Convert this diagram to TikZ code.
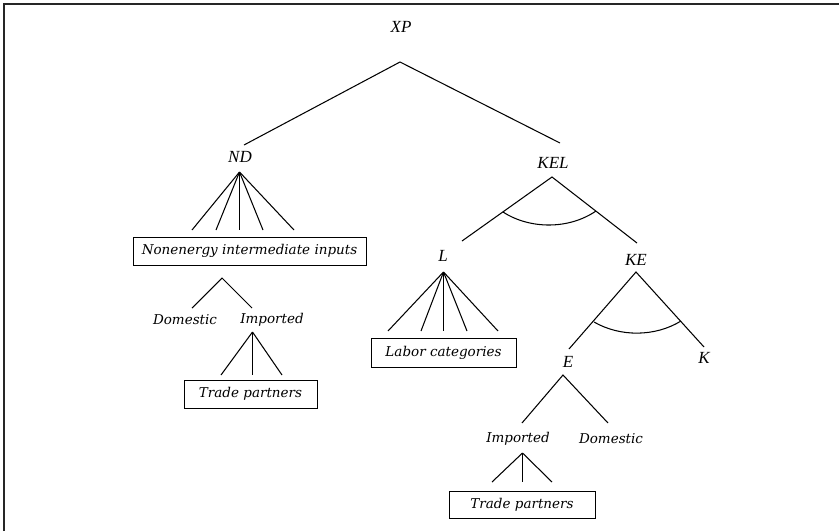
\documentclass[tikz,border=0pt]{standalone}
\usepackage{fontspec}
\setmainfont{DejaVu Serif}
\newfontfamily\capsfont{Liberation Serif}
\begin{document}
\begin{tikzpicture}[x=1pt,y=-1pt,
  lbl/.style={font=\fontsize{13.5}{16}\selectfont\itshape, inner sep=1pt},
  var/.style={font=\capsfont\fontsize{17}{20}\selectfont\itshape, inner sep=1pt},
  boxed/.style={draw, line width=1pt, font=\fontsize{13.5}{16}\selectfont\itshape, inner sep=0pt},
  edge/.style={line width=1.05pt},
  frame/.style={line width=1.6pt, black!85}]
\useasboundingbox (0,0) rectangle (839,531);
\draw[frame] (4,531) -- (4,4) -- (839,4);

% top
\node[var] (XP) at (401,27) {XP};
\coordinate (xpA) at (400,62);
\coordinate (xpL) at (244,145);
\coordinate (xpR) at (560,143);
\draw[edge] (xpL) -- (xpA) -- (xpR);

% ND branch
\node[var] (ND) at (240,157) {ND};
\coordinate (ndA) at (239.5,172);
\foreach \x [count=\i] in {192,216,239.5,263,294} \coordinate (nd\i) at (\x,230);
\foreach \i in {1,...,5} \draw[edge] (ndA) -- (nd\i);
\node[boxed, minimum width=233pt, minimum height=28pt] (nei) at (249.5,251) {Nonenergy intermediate inputs};

\coordinate (dA) at (222,278);
\coordinate (dL) at (192,308);
\coordinate (dR) at (252,308);
\draw[edge] (dL) -- (dA) -- (dR);
\node[lbl] (dom1) at (185,320) {Domestic};
\node[lbl] (imp1) at (272,320) {Imported};
\coordinate (i1A) at (252.5,332);
\foreach \x [count=\i] in {221,252.5,282} \coordinate (i1e\i) at (\x,375);
\foreach \i in {1,2,3} \draw[edge] (i1A) -- (i1e\i);
\node[boxed, minimum width=133pt, minimum height=28pt] (tp1) at (250.5,394) {Trade partners};

% KEL branch
\node[var] (KEL) at (553,163) {KEL};
\coordinate (kelA) at (552,177);
\coordinate (kelL) at (462,241);
\coordinate (kelR) at (637,243);
\draw[edge] (kelL) -- (kelA) -- (kelR);
\draw[edge] (503,212) .. controls (530,229.5) and (569,229.5) .. (596,211);

% L
\node[var] (L) at (443,256) {L};
\coordinate (lA) at (443.5,272);
\foreach \x [count=\i] in {388,421,443.5,467,498} \coordinate (l\i) at (\x,331);
\foreach \i in {1,...,5} \draw[edge] (lA) -- (l\i);
\node[boxed, minimum width=145pt, minimum height=29pt] (lab) at (443.5,352.5) {Labor categories};

% KE
\node[var] (KE) at (636,260) {KE};
\coordinate (keA) at (636,272);
\coordinate (keL) at (569,349);
\coordinate (keR) at (704,347);
\draw[edge] (keL) -- (keA) -- (keR);
\draw[edge] (594,322) .. controls (620,337) and (655,337) .. (681,321);
\node[var] (E) at (568,362) {E};
\node[var] (K) at (704,358) {K};

% E
\coordinate (eA) at (563,375);
\coordinate (eL) at (522,423);
\coordinate (eR) at (608,423);
\draw[edge] (eL) -- (eA) -- (eR);
\node[lbl] (imp2) at (518,439) {Imported};
\node[lbl] (dom2) at (611,439) {Domestic};
\coordinate (i2A) at (522.5,453);
\foreach \x [count=\i] in {492,522.5,552} \coordinate (i2e\i) at (\x,482);
\foreach \i in {1,2,3} \draw[edge] (i2A) -- (i2e\i);
\node[boxed, minimum width=146pt, minimum height=27pt] (tp2) at (522,504.5) {Trade partners};
\end{tikzpicture}
\end{document}
